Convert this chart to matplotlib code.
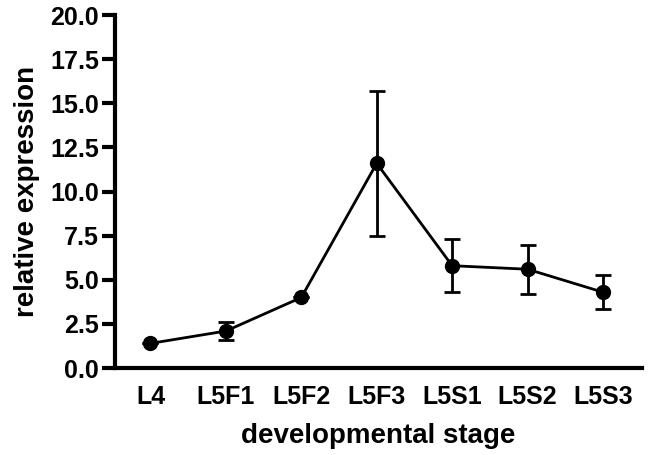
import matplotlib
matplotlib.use('Agg')
import matplotlib.pyplot as plt

# developmental stages and mean relative expression (+/- error)
stages = ['L4', 'L5F1', 'L5F2', 'L5F3', 'L5S1', 'L5S2', 'L5S3']
expression = [1.40, 2.10, 4.00, 11.60, 5.80, 5.60, 4.30]
errors = [0.0, 0.50, 0.0, 4.10, 1.50, 1.40, 0.95]

plt.rcParams['font.family'] = ['Liberation Sans', 'DejaVu Sans']
plt.rcParams['font.weight'] = 'bold'

fig = plt.figure(figsize=(6.5, 4.55), dpi=100)
ax = fig.add_axes([0.177, 0.191, 0.811, 0.776])

x = list(range(len(stages)))
ax.errorbar(x, expression, yerr=errors, color='black', lw=2, marker='o', ms=10,
            capsize=6, capthick=2, elinewidth=2)

ax.set_xlim(-0.47, 6.52)
ax.set_ylim(0, 20)
ax.set_yticks([0, 2.5, 5, 7.5, 10, 12.5, 15, 17.5, 20])
ax.set_yticklabels([f"{v:.1f}" for v in ax.get_yticks()])
ax.set_xticks(x)
ax.set_xticklabels(stages)

for s in ['top', 'right']:
    ax.spines[s].set_visible(False)
for s in ['left', 'bottom']:
    ax.spines[s].set_linewidth(3)

ax.tick_params(axis='y', length=9.5, width=3, pad=2, labelsize=18)
ax.tick_params(axis='x', length=0, pad=12, labelsize=18)
for lab in ax.get_xticklabels() + ax.get_yticklabels():
    lab.set_fontweight('bold')

ax.set_xlabel('developmental stage', fontsize=20, fontweight='bold', labelpad=10)
ax.set_ylabel('relative expression', fontsize=20, fontweight='bold', labelpad=7)

fig.savefig('out.png', dpi=100)
